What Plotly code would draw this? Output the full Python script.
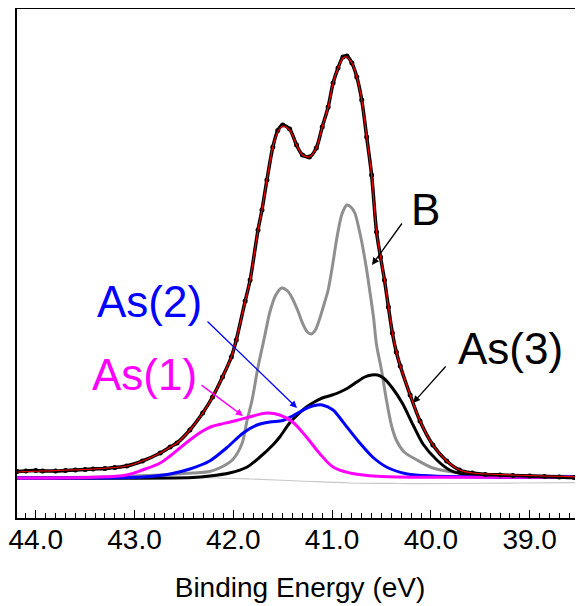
import plotly.graph_objects as go

# ---------------- data ----------------
# binding energy (eV) / intensity (arb. units)
be_fit = [44.19, 43.93, 43.42, 43.08, 42.92, 42.74, 42.64, 42.57, 42.44, 42.31,
          42.21, 42.11, 42.02, 41.97, 41.88, 41.83, 41.75, 41.71, 41.66, 41.60,
          41.55, 41.50, 41.43, 41.36, 41.30, 41.23, 41.16, 41.10, 41.04, 40.99,
          40.94, 40.89, 40.85, 40.80, 40.75, 40.70, 40.65, 40.60, 40.55, 40.51,
          40.47, 40.43, 40.39, 40.35, 40.31, 40.21, 40.11, 39.98, 39.84, 39.71,
          39.58, 39.17, 38.46]
fit = [45.5, 46.5, 48.5, 51.5, 56.5, 64.5, 70.5, 74.5, 87.5, 104.5,
       120.5, 140.5, 160.5, 177.5, 216.5, 237.5, 287.5, 307.5, 337.5, 370.5,
       385.5, 391.5, 387.5, 372.5, 362.5, 360.5, 369.5, 390.5, 410.5, 434.5,
       449.5, 459.5, 460.5, 454.5, 440.5, 417.5, 380.5, 342.5, 285.5, 260.5,
       237.5, 210.5, 184.5, 165.5, 151.5, 122.5, 96.5, 72.5, 56.5, 47.5,
       44.5, 42.5, 40.5]

be_counts = [44.19, 44.10, 44.00, 43.93, 43.80, 43.70, 43.60, 43.50, 43.42, 43.30,
             43.20, 43.08, 42.92, 42.74, 42.64, 42.57, 42.44, 42.31, 42.21, 42.11,
             42.02, 41.97, 41.88, 41.83, 41.75, 41.71, 41.66, 41.60, 41.55, 41.50,
             41.43, 41.36, 41.30, 41.23, 41.16, 41.10, 41.04, 40.99, 40.94, 40.89,
             40.85, 40.80, 40.75, 40.70, 40.65, 40.60, 40.55, 40.51, 40.47, 40.43,
             40.39, 40.35, 40.31, 40.21, 40.11, 39.98, 39.84, 39.71, 39.58, 39.45,
             39.30, 39.17, 39.00, 38.85, 38.70, 38.55, 38.46]
counts = [46.0, 46.5, 47.0, 46.5, 46.5, 47.0, 47.5, 48.0, 48.5, 49.0,
          50.0, 51.5, 56.5, 64.5, 70.5, 74.5, 87.5, 104.5, 120.5, 140.5,
          160.5, 177.5, 216.5, 237.5, 287.5, 307.5, 337.5, 370.5, 387.0, 392.5,
          388.5, 372.5, 362.5, 360.5, 369.5, 390.5, 410.5, 434.5, 449.5, 460.5,
          461.5, 454.5, 440.5, 417.5, 380.5, 342.5, 285.5, 260.5, 237.5, 210.5,
          184.5, 165.5, 151.5, 122.5, 96.5, 72.5, 56.5, 47.5, 44.5, 43.0,
          42.5, 42.0, 41.5, 41.0, 40.5, 40.0, 40.0]

be_b = [44.19, 43.35, 42.74, 42.41, 42.24, 42.14, 42.01, 41.91, 41.86, 41.81,
        41.75, 41.68, 41.63, 41.57, 41.51, 41.45, 41.41, 41.35, 41.30, 41.25,
        41.21, 41.17, 41.13, 41.09, 41.04, 40.99, 40.95, 40.90, 40.85, 40.81,
        40.77, 40.73, 40.69, 40.65, 40.62, 40.58, 40.55, 40.50, 40.45, 40.40,
        40.35, 40.27, 40.14, 39.98, 39.78, 39.51, 39.10, 38.46]
b_comp = [39.5, 40.5, 42.5, 44.5, 46.0, 49.5, 57.5, 74.5, 97.5, 117.5,
          150.5, 182.5, 205.5, 222.5, 229.5, 226.5, 220.5, 207.5, 194.5, 185.5,
          183.5, 187.5, 197.5, 210.5, 227.5, 255.5, 280.5, 303.5, 312.5, 310.5,
          304.5, 289.5, 270.5, 247.5, 227.5, 199.5, 172.5, 147.5, 117.5, 92.5,
          77.5, 65.5, 57.5, 49.5, 45.5, 43.5, 42.0, 41.0]

be_as1 = [44.19, 43.42, 43.08, 42.92, 42.74, 42.64, 42.54, 42.44, 42.31, 42.22,
          42.14, 41.97, 41.80, 41.66, 41.53, 41.40, 41.26, 41.13, 40.99, 40.82,
          40.59, 40.32, 38.46]
as1 = [39.5, 40.2, 42.5, 47.5, 54.5, 61.5, 69.5, 77.5, 86.5, 91.0,
       93.0, 97.0, 101.5, 104.5, 102.5, 95.5, 80.5, 64.5, 50.5, 44.5,
       41.5, 40.5, 40.5]

be_as2 = [44.19, 42.92, 42.64, 42.44, 42.24, 42.07, 41.90, 41.76, 41.63, 41.50,
          41.40, 41.33, 41.23, 41.15, 41.10, 40.99, 40.92, 40.85, 40.72, 40.59,
          40.45, 40.24, 39.98, 39.30, 38.46]
as2 = [39.5, 40.5, 43.5, 48.5, 56.5, 69.5, 84.5, 92.5, 95.5, 97.0,
       101.5, 105.5, 110.5, 112.5, 112.5, 107.5, 99.5, 90.5, 74.5, 60.5,
       50.5, 43.5, 41.5, 40.5, 40.5]

be_as3 = [44.19, 42.41, 42.24, 42.04, 41.86, 41.73, 41.60, 41.53, 41.43, 41.33,
          41.26, 41.18, 41.10, 41.00, 40.92, 40.84, 40.75, 40.67, 40.60, 40.54,
          40.48, 40.39, 40.29, 40.18, 40.08, 39.94, 39.81, 39.64, 39.33, 38.46]
as3 = [39.5, 40.0, 41.5, 44.5, 50.5, 60.5, 72.5, 80.5, 94.5, 104.5,
       110.5, 115.5, 119.5, 122.5, 125.5, 129.5, 135.5, 140.5, 142.5, 142.5,
       139.5, 129.5, 114.5, 92.5, 73.5, 57.5, 47.5, 42.5, 40.5, 40.5]

be_bg = [44.19, 42.44, 41.83, 41.33, 40.82, 40.32, 39.81, 39.10, 38.46]
bg = [40.5, 40.0, 38.5, 36.5, 34.5, 34.0, 34.0, 34.5, 35.0]

labels = ["B", "As(3)", "As(2)", "As(1)"]
tick_vals = [44.0, 43.0, 42.0, 41.0, 40.0, 39.0]
tick_text = ["44.0", "43.0", "42.0", "41.0", "40.0", "39.0"]
x_title = "Binding Energy (eV)"

# ---------------- figure geometry ----------------
# the page body has an 8 px margin, so the figure starts at (8, 8) in the window
OFF = 8
W, H = 583 - OFF, 606 - OFF
ML, MR, MT, MB = 17 - OFF, 0, 9 - OFF, 88
X_RANGE = [44.19, 38.46]
Y_RANGE = [-0.5, 508.5]
PW, PH = W - ML - MR, H - MT - MB


def px_x(px):
    """window pixel x -> binding energy"""
    return X_RANGE[0] + (px - OFF - ML) / PW * (X_RANGE[1] - X_RANGE[0])


def px_y(py):
    """window pixel y -> intensity"""
    return Y_RANGE[1] - (py - OFF - MT) / PH * (Y_RANGE[1] - Y_RANGE[0])


FONT = "Liberation Sans, Arial, sans-serif"
GRAY = "#8f8f8f"
BLUE = "#0000ff"
MAG = "#ff00ff"

fig = go.Figure()
fig.add_trace(go.Scatter(x=be_bg, y=bg, mode="lines",
                         line=dict(color="#c8c8c8", width=1.2, shape="spline")))
fig.add_trace(go.Scatter(x=be_b, y=b_comp, mode="lines",
                         line=dict(color=GRAY, width=3, shape="spline", smoothing=0.8)))
fig.add_trace(go.Scatter(x=be_as3, y=as3, mode="lines",
                         line=dict(color="black", width=3, shape="spline", smoothing=0.8)))
fig.add_trace(go.Scatter(x=be_as2, y=as2, mode="lines",
                         line=dict(color=BLUE, width=3, shape="spline", smoothing=0.8)))
fig.add_trace(go.Scatter(x=be_as1, y=as1, mode="lines",
                         line=dict(color=MAG, width=3, shape="spline", smoothing=1.0)))
fig.add_trace(go.Scatter(x=be_counts, y=counts, mode="lines+markers",
                         line=dict(color="black", width=3.5, shape="spline", smoothing=0.8),
                         marker=dict(color="black", size=5)))
fig.add_trace(go.Scatter(x=be_fit, y=fit, mode="lines",
                         line=dict(color="red", width=1.2, shape="spline", smoothing=0.8)))

annotations = []
# labels (positions in window pixels of the picture)
for txt, (cx, cy), col in zip(labels,
                              [(425, 209), (510, 348), (149, 301), (144, 374)],
                              ["black", "black", BLUE, MAG]):
    annotations.append(dict(x=px_x(cx), y=px_y(cy), xref="x", yref="y",
                            text=txt, showarrow=False, xanchor="center",
                            yanchor="middle",
                            font=dict(family=FONT, size=44, color=col)))
# arrows: (tail, tip)
for (tx, ty), (hx, hy), col in [((403, 222), (372, 265), "black"),
                                ((447, 365), (413, 403), "black"),
                                ((206, 320), (297, 408), BLUE),
                                ((200, 384), (243, 416), MAG)]:
    annotations.append(dict(x=px_x(hx), y=px_y(hy), xref="x", yref="y",
                            ax=tx - hx, ay=ty - hy, axref="pixel", ayref="pixel",
                            text="", showarrow=True, arrowhead=2, arrowsize=1.1,
                            arrowwidth=1.3, arrowcolor=col))

fig.update_layout(
    width=W, height=H, template="none",
    margin=dict(l=ML, r=MR, t=MT, b=MB, pad=0, autoexpand=False),
    paper_bgcolor="white", plot_bgcolor="white",
    showlegend=False,
    font=dict(family=FONT, color="black"),
    annotations=annotations,
    xaxis=dict(range=X_RANGE, showgrid=False, zeroline=False,
               showline=True, linecolor="black", linewidth=2, mirror=True,
               ticks="inside", ticklen=8, tickwidth=1, tickcolor="black",
               tickvals=tick_vals, ticktext=tick_text,
               tickfont=dict(family=FONT, size=28, color="black"),
               ticklabelstandoff=-5,
               minor=dict(dtick=0.1, tick0=44.0, ticks="inside", ticklen=5,
                          tickwidth=1, tickcolor="black", showgrid=False),
               title=dict(text=x_title, font=dict(family=FONT, size=28, color="black"),
                          standoff=24),
               automargin=False),
    yaxis=dict(range=Y_RANGE, showgrid=False, zeroline=False,
               showline=True, linecolor="black", linewidth=2, mirror=False,
               ticks="", showticklabels=False, automargin=False),
)

fig.write_html("out.html")
